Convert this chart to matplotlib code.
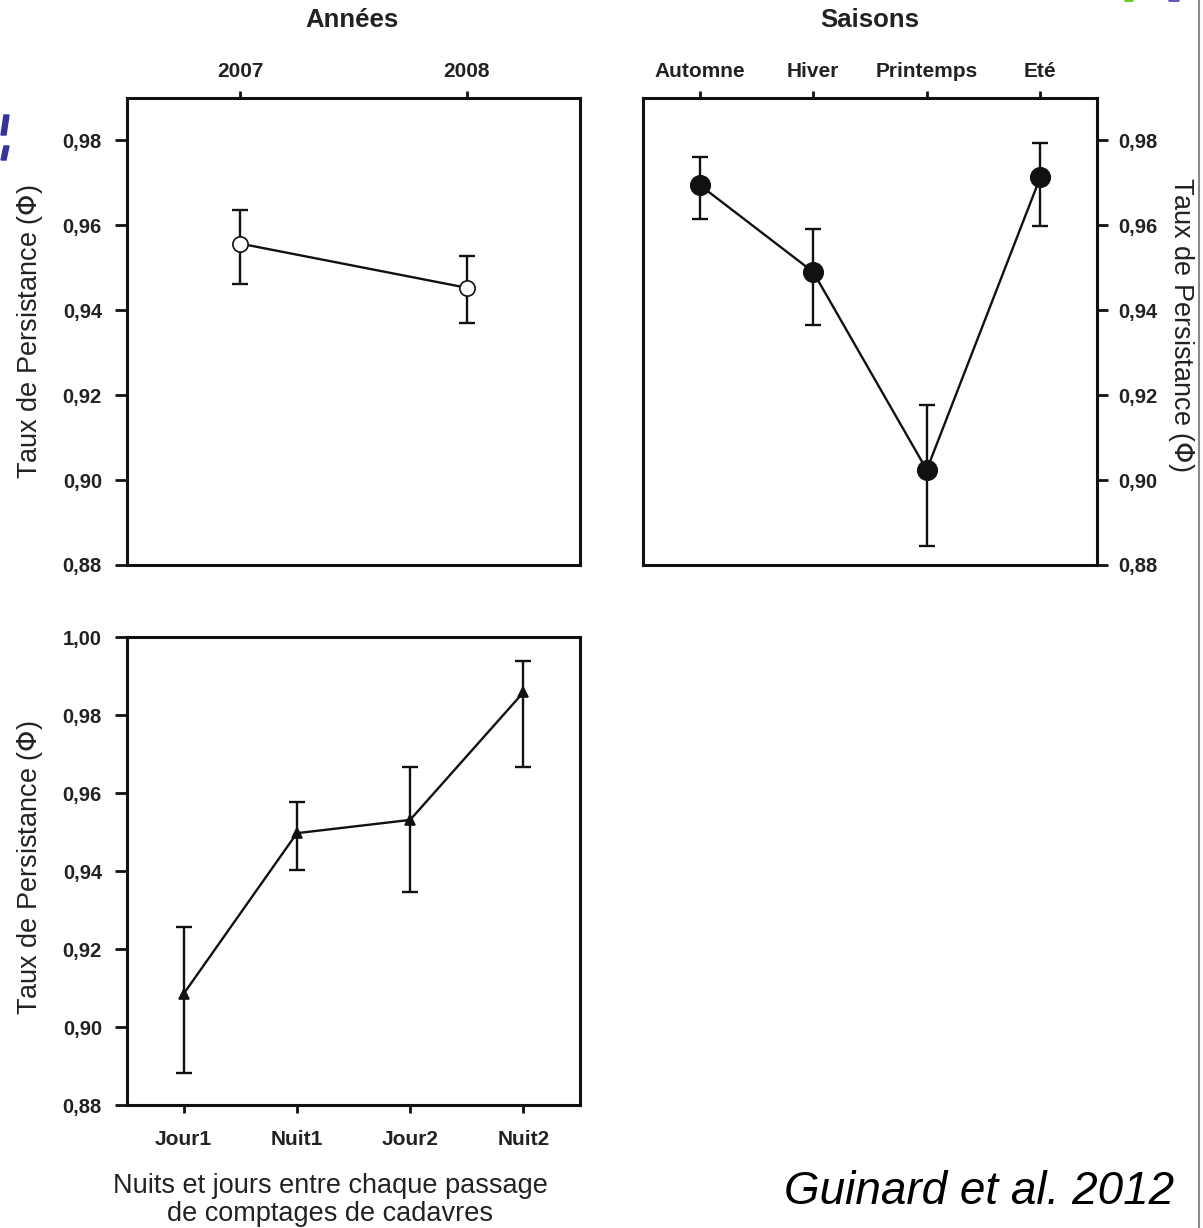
import matplotlib
matplotlib.use("Agg")
import matplotlib.pyplot as plt
from matplotlib.ticker import FixedLocator, FuncFormatter
from matplotlib.lines import Line2D
from matplotlib.patches import Polygon

plt.rcParams['font.family'] = ['Liberation Sans', 'DejaVu Sans']

# ---- data ----
years = ["2007", "2008"]
years_val = [0.9557, 0.9453]
years_hi = [0.9637, 0.9529]
years_lo = [0.9463, 0.9371]

seasons = ["Automne", "Hiver", "Printemps", "Eté"]
seasons_val = [0.9695, 0.9490, 0.9024, 0.9713]
seasons_hi = [0.9761, 0.9592, 0.9178, 0.9795]
seasons_lo = [0.9614, 0.9366, 0.8844, 0.9598]

periods = ["Jour1", "Nuit1", "Jour2", "Nuit2"]
periods_val = [0.9085, 0.9497, 0.9531, 0.9858]
periods_hi = [0.9257, 0.9576, 0.9667, 0.9939]
periods_lo = [0.8881, 0.9403, 0.9345, 0.9667]

yticks_top = [0.88, 0.90, 0.92, 0.94, 0.96, 0.98]
yticks_bot = [0.88, 0.90, 0.92, 0.94, 0.96, 0.98, 1.00]

W, H = 1203, 1228
fig = plt.figure(figsize=(W / 100, H / 100), dpi=100)

def box(l, t, r, b):
    return [l / W, 1 - b / H, (r - l) / W, (b - t) / H]

ax1 = fig.add_axes(box(127, 98, 580, 565))
ax2 = fig.add_axes(box(643, 98, 1097, 565))
ax3 = fig.add_axes(box(127, 637, 580, 1105))

fmt = FuncFormatter(lambda v, p: f"{v:.2f}".replace('.', ','))
xtick_font = dict(fontsize=15, fontweight='bold', color='#222222')
ytick_font = dict(fontsize=14.5, fontweight='bold', color='#222222')

def style(ax):
    for s in ax.spines.values():
        s.set_linewidth(2.2)
        s.set_color('#111111')
    ax.tick_params(width=2, color='#111111')
    ax.yaxis.set_major_formatter(fmt)

def draw(ax, labels, vals, hi, lo, marker, ms, mfc):
    x = list(range(len(labels)))
    err = [[v - l for v, l in zip(vals, lo)], [h - v for v, h in zip(vals, hi)]]
    ax.errorbar(x, vals, yerr=err, fmt='none', ecolor='#111111', elinewidth=1.7,
                capsize=6, capthick=1.7, zorder=2)
    ax.plot(x, vals, color='#111111', lw=1.7, marker=marker, ms=ms,
            mfc=mfc, mec='#111111', mew=1.2, zorder=3)
    ax.set_xlim(-0.5, len(labels) - 0.5)
    ax.xaxis.set_major_locator(FixedLocator(x))
    ax.set_xticklabels(labels, **xtick_font)

# Top-left: années
draw(ax1, years, years_val, years_hi, years_lo, 'o', 11, 'white')
style(ax1)
ax1.set_ylim(0.88, 0.990)
ax1.yaxis.set_major_locator(FixedLocator(yticks_top))
ax1.xaxis.tick_top()
ax1.tick_params(axis='y', left=True, right=False, length=9, pad=9)
for t in ax1.get_yticklabels():
    t.set(**ytick_font)

# Top-right: saisons
draw(ax2, seasons, seasons_val, seasons_hi, seasons_lo, 'o', 14, '#111111')
style(ax2)
ax2.set_ylim(0.88, 0.990)
ax2.yaxis.set_major_locator(FixedLocator(yticks_top))
ax2.xaxis.tick_top()
ax2.yaxis.tick_right()
ax2.tick_params(axis='y', length=8, pad=7)
for t in ax2.get_yticklabels():
    t.set(**ytick_font)

# Bottom-left: nuits / jours
draw(ax3, periods, periods_val, periods_hi, periods_lo, '^', 7.5, '#111111')
style(ax3)
ax3.set_ylim(0.88, 1.00)
ax3.yaxis.set_major_locator(FixedLocator(yticks_bot))
ax3.tick_params(axis='y', left=True, right=False, length=9, pad=9)
ax3.tick_params(axis='x', length=6, pad=12)
for t in ax3.get_yticklabels():
    t.set(**ytick_font)

for ax in (ax1, ax2):
    ax.tick_params(axis='x', length=5, pad=7)

# axis labels
ylab = dict(fontsize=19.5, color='#222222')
lab = r"Taux de Persistance ($\mathit{\Phi}$)"
fig.text(30 / W, 1 - 332 / H, lab, rotation=90, ha='center', va='center', **ylab)
fig.text(30 / W, 1 - 868 / H, lab, rotation=90, ha='center', va='center', **ylab)
fig.text(1181 / W, 1 - 324 / H, lab, rotation=-90, ha='center', va='center', **ylab)

fig.text(352 / W, 1 - 20 / H, "Années", ha='center', va='center',
         fontsize=18.5, fontweight='bold', color='#222222')
fig.text(870 / W, 1 - 20 / H, "Saisons", ha='center', va='center',
         fontsize=18.5, fontweight='bold', color='#222222')

fig.text(330 / W, 1 - 1200 / H, "Nuits et jours entre chaque passage\nde comptages de cadavres",
         ha='center', va='center', fontsize=19.5, color='#222222', linespacing=1.1)

fig.text(979 / W, 1 - 1192 / H, "Guinard et al. 2012", ha='center', va='center',
         fontsize=33, style='italic', color='black')

# slide remnants
fig.add_artist(Line2D([1199 / W, 1199 / W], [0, 1], color='#8a8a8a', lw=1.5))
for (y0, y1) in [(115, 135), (146, 160)]:
    pts = [(1, y1), (6, y1), (9, y0), (4, y0)]
    fig.add_artist(Polygon([(px / W, 1 - py / H) for px, py in pts], closed=True,
                           transform=fig.transFigure, color='#333399'))
for (xa, xb, c) in [(1124, 1134, '#66cc33'), (1168, 1180, '#6655bb')]:
    pts = [(xa, 0), (xb, 0), (xb - 1, 2), (xa + 1, 2)]
    fig.add_artist(Polygon([(px / W, 1 - py / H) for px, py in pts], closed=True,
                           transform=fig.transFigure, color=c, lw=0))

fig.savefig("out.png", dpi=100)
